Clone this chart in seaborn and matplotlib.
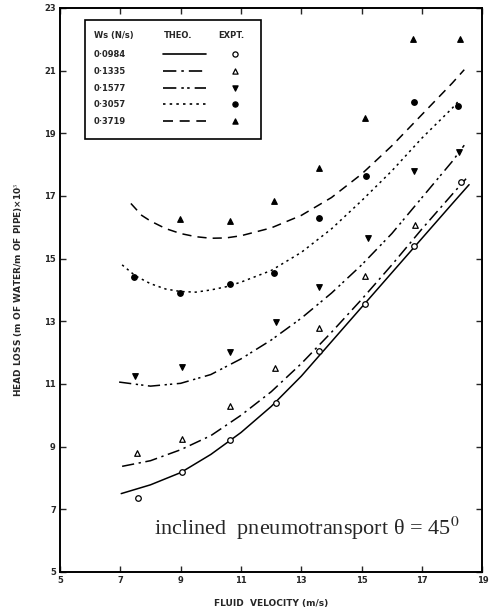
import pandas as pd
import matplotlib.pyplot as plt
import seaborn as sns

# solids flow rates Ws (N/s)
rates = ['0·0984', '0·1335', '0·1577', '0·3057', '0·3719']

# theoretical curves
theo_x_0984 = [7.03, 8, 9, 10, 11, 12, 13, 14, 15, 16, 17, 18, 18.56]
theo_y_0984 = [7.5, 7.78, 8.17, 8.75, 9.45, 10.28, 11.25, 12.35, 13.45, 14.55, 15.65, 16.75, 17.36]
theo_x_1335 = [7.06, 8, 9, 10, 11, 12, 13, 14, 15, 16, 17, 18, 18.46]
theo_y_1335 = [8.37, 8.55, 8.9, 9.35, 10.0, 10.75, 11.65, 12.65, 13.7, 14.8, 15.95, 17.05, 17.55]
theo_x_1577 = [6.96, 8, 9, 10, 11, 12, 13, 14, 15, 16, 17, 18, 18.4]
theo_y_1577 = [11.06, 10.93, 11.02, 11.3, 11.8, 12.4, 13.1, 13.9, 14.8, 15.8, 16.95, 18.1, 18.62]
theo_x_3057 = [7.06, 7.5, 8, 8.5, 9, 9.5, 10, 10.5, 11, 12, 13, 14, 15, 16, 17, 18, 18.24]
theo_y_3057 = [14.8, 14.45, 14.2, 14.03, 13.95, 13.93, 14.0, 14.1, 14.25, 14.62, 15.2, 15.95, 16.85,
               17.8, 18.85, 19.8, 20.06]
theo_x_3719 = [7.35, 7.71, 8, 8.5, 9, 9.5, 10, 10.5, 11, 12, 13, 14, 15, 16, 17, 18, 18.4]
theo_y_3719 = [16.76, 16.38, 16.2, 15.96, 15.8, 15.7, 15.65, 15.66, 15.73, 15.98, 16.38, 16.95, 17.7,
               18.6, 19.6, 20.6, 21.03]

# experimental points
expt_x_0984 = [7.6, 9.05, 10.65, 12.15, 13.6, 15.1, 16.75, 18.3]
expt_y_0984 = [7.35, 8.2, 9.2, 10.4, 12.05, 13.55, 15.4, 17.45]
expt_x_1335 = [7.55, 9.05, 10.62, 12.12, 13.6, 15.1, 16.76]
expt_y_1335 = [8.8, 9.23, 10.3, 11.5, 12.8, 14.45, 16.06]
expt_x_1577 = [7.48, 9.05, 10.65, 12.16, 13.6, 15.2, 16.73, 18.24]
expt_y_1577 = [11.25, 11.54, 12.02, 12.98, 14.1, 15.67, 17.8, 18.4]
expt_x_3057 = [7.45, 8.99, 10.62, 12.09, 13.6, 15.13, 16.73, 18.2]
expt_y_3057 = [14.42, 13.9, 14.2, 14.55, 16.3, 17.63, 20.0, 19.87]
expt_x_3719 = [8.99, 10.62, 12.09, 13.6, 15.1, 16.7, 18.27]
expt_y_3719 = [16.28, 16.2, 16.83, 17.9, 19.5, 22.0, 22.0]

theo = pd.concat([
    pd.DataFrame({'v': theo_x_0984, 'h': theo_y_0984, 'Ws': rates[0]}),
    pd.DataFrame({'v': theo_x_1335, 'h': theo_y_1335, 'Ws': rates[1]}),
    pd.DataFrame({'v': theo_x_1577, 'h': theo_y_1577, 'Ws': rates[2]}),
    pd.DataFrame({'v': theo_x_3057, 'h': theo_y_3057, 'Ws': rates[3]}),
    pd.DataFrame({'v': theo_x_3719, 'h': theo_y_3719, 'Ws': rates[4]}),
])
expt = pd.concat([
    pd.DataFrame({'v': expt_x_0984, 'h': expt_y_0984, 'Ws': rates[0]}),
    pd.DataFrame({'v': expt_x_1335, 'h': expt_y_1335, 'Ws': rates[1]}),
    pd.DataFrame({'v': expt_x_1577, 'h': expt_y_1577, 'Ws': rates[2]}),
    pd.DataFrame({'v': expt_x_3057, 'h': expt_y_3057, 'Ws': rates[3]}),
    pd.DataFrame({'v': expt_x_3719, 'h': expt_y_3719, 'Ws': rates[4]}),
])

styles = {
    rates[0]: dict(ls='-', marker='o', fc='white'),
    rates[1]: dict(ls=(0, (8, 3, 1.5, 3)), marker='^', fc='white'),
    rates[2]: dict(ls=(0, (8, 3, 1.5, 2, 1.5, 3)), marker='v', fc='black'),
    rates[3]: dict(ls=(0, (1.5, 2.5)), marker='o', fc='black'),
    rates[4]: dict(ls=(0, (6, 4)), marker='^', fc='black'),
}

sns.set_style('ticks')
plt.rcParams['font.family'] = ['DejaVu Sans']
plt.rcParams['mathtext.fontset'] = 'stix'

fig = plt.figure(figsize=(4.9, 6.13), dpi=100)
ax = fig.add_axes([0.1224, 0.067, 0.862, 0.92])

for w in rates:
    st = styles[w]
    sns.lineplot(data=theo[theo['Ws'] == w], x='v', y='h', ax=ax, color='black',
                 linewidth=1.1, linestyle=st['ls'], sort=False, estimator=None)
    sns.scatterplot(data=expt[expt['Ws'] == w], x='v', y='h', ax=ax, marker=st['marker'],
                    color=st['fc'], edgecolor='black', linewidth=0.9, s=16, zorder=3)

ax.set_xlim(5, 19)
ax.set_ylim(5, 23)
ax.set_xticks([5, 7, 9, 11, 13, 15, 17, 19])
ax.set_yticks([5, 7, 9, 11, 13, 15, 17, 19, 21, 23])
ax.tick_params(direction='in', length=4, width=1, labelsize=6, top=True, right=True, pad=3)
for lab in ax.get_xticklabels() + ax.get_yticklabels():
    lab.set_fontweight('bold')
for sp in ax.spines.values():
    sp.set_linewidth(1.4)
    sp.set_color('black')

ax.set_xlabel('FLUID  VELOCITY (m/s)', fontsize=6.5, fontweight='bold', labelpad=10)
ax.set_ylabel('HEAD LOSS (m OF WATER/m OF PIPE)×10$^3$', fontsize=6.5, fontweight='bold', labelpad=14)

# hand-made legend table
tr = ax.transAxes
ax.add_patch(plt.Rectangle((0.06, 0.768), 0.415, 0.21, transform=tr, fill=False,
                           edgecolor='black', linewidth=1.2, zorder=4))
ax.text(0.08, 0.952, 'Ws (N/s)', transform=tr, fontsize=6, fontweight='bold', va='center')
ax.text(0.245, 0.952, 'THEO.', transform=tr, fontsize=6, fontweight='bold', va='center')
ax.text(0.375, 0.952, 'EXPT.', transform=tr, fontsize=6, fontweight='bold', va='center')
row_y = [0.918, 0.888, 0.858, 0.829, 0.799]
for w, yy in zip(rates, row_y):
    st = styles[w]
    ax.text(0.08, yy, w, transform=tr, fontsize=6, fontweight='bold', va='center')
    ax.plot([0.245, 0.345], [yy, yy], transform=tr, color='black', linewidth=1.2,
            linestyle=st['ls'])
    ax.scatter([0.415], [yy], transform=tr, marker=st['marker'], color=st['fc'],
               edgecolor='black', linewidth=0.9, s=14, zorder=5)

ax.text(0.585, 0.078, 'inclined  pneumotransport θ = 45$^{\\rm 0}$', transform=tr,
        fontsize=16, family='Liberation Serif', ha='center', va='center')

fig.savefig('out.png', dpi=100)
